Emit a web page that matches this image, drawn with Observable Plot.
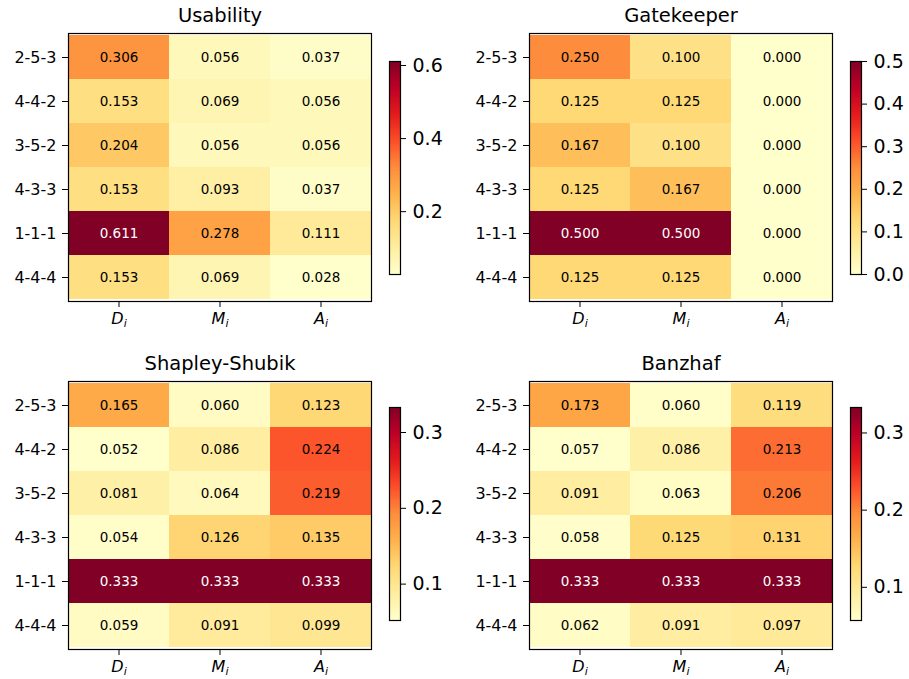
<!DOCTYPE html>
<html><head><meta charset="utf-8">
<script src="https://cdn.jsdelivr.net/npm/d3@7"></script>
<script src="https://cdn.jsdelivr.net/npm/@observablehq/plot@0.6"></script>
<style>
body{margin:0;background:#fff;}
#root{position:relative;width:909px;height:679px;font-family:"DejaVu Sans",sans-serif;background:#fff;overflow:hidden;}
#root svg{position:absolute;}
</style></head><body><div id="root"></div>
<script>
// ---- data ----
const rows = ["2-5-3", "4-4-2", "3-5-2", "4-3-3", "1-1-1", "4-4-4"];
const cols = ["D", "M", "A"];
const usability  = [[0.306,0.056,0.037],[0.153,0.069,0.056],[0.204,0.056,0.056],[0.153,0.093,0.037],[0.611,0.278,0.111],[0.153,0.069,0.028]];
const gatekeeper = [[0.250,0.100,0.000],[0.125,0.125,0.000],[0.167,0.100,0.000],[0.125,0.167,0.000],[0.500,0.500,0.000],[0.125,0.125,0.000]];
const shapley    = [[0.165,0.060,0.123],[0.052,0.086,0.224],[0.081,0.064,0.219],[0.054,0.126,0.135],[0.333,0.333,0.333],[0.059,0.091,0.099]];
const banzhaf    = [[0.173,0.060,0.119],[0.057,0.086,0.213],[0.091,0.063,0.206],[0.058,0.125,0.131],[0.333,0.333,0.333],[0.062,0.091,0.097]];
const titles = ["Usability", "Gatekeeper", "Shapley-Shubik", "Banzhaf"];
const cbTicks = [[0.2,0.4,0.6],[0,0.1,0.2,0.3,0.4,0.5],[0.1,0.2,0.3],[0.1,0.2,0.3]];
const ylorrd = ["#ffffcc","#ffeda0","#fed976","#feb24c","#fd8d3c","#fc4e2a","#e31a1c","#bd0026","#800026"];

// ---- layout ----
const matrices = [usability, gatekeeper, shapley, banzhaf];
const layout = [
  {left: 0,   top: 0,   ml: 68, mt: 33, H: 340, cbLeft: 389, cbTop: 61,  cbBot: 274},
  {left: 450, top: 0,   ml: 79, mt: 33, H: 340, cbLeft: 850, cbTop: 61,  cbBot: 274},
  {left: 0,   top: 340, ml: 68, mt: 41, H: 339, cbLeft: 389, cbTop: 407, cbBot: 620},
  {left: 450, top: 340, ml: 79, mt: 41, H: 339, cbLeft: 850, cbTop: 407, cbBot: 620}
];
const PW = 303, PH = 268;
const root = document.getElementById("root");
const font = "DejaVu Sans";

matrices.forEach((m, k) => {
  const L = layout[k];
  const data = [];
  m.forEach((r, i) => r.forEach((v, j) => data.push({row: rows[i], col: cols[j], value: v})));
  const vals = data.map(d => d.value);
  const lo = d3.min(vals), hi = d3.max(vals);
  const colorScale = {
    type: "linear",
    domain: ylorrd.map((_, i) => lo + (hi - lo) * i / (ylorrd.length - 1)),
    range: ylorrd,
    interpolate: "rgb"
  };
  const thr = lo + 0.75 * (hi - lo);
  const fmt = d3.format(".3f");

  const heat = Plot.plot({
    width: L.ml + PW + 10, height: L.H,
    marginLeft: L.ml, marginRight: 10, marginTop: L.mt, marginBottom: L.H - L.mt - PH,
    x: {type: "band", domain: cols, padding: 0, label: null},
    y: {type: "band", domain: rows, padding: 0, label: null},
    color: colorScale,
    style: {fontFamily: font, color: "#000", background: "transparent", overflow: "visible"},
    marks: [
      Plot.cell(data, {x: "col", y: "row", fill: "value", inset: 0, shapeRendering: "crispEdges"}),
      Plot.text(data.filter(d => d.value <= thr), {x: "col", y: "row", text: d => fmt(d.value), fill: "#000", fontSize: 13.5}),
      Plot.text(data.filter(d => d.value > thr), {x: "col", y: "row", text: d => fmt(d.value), fill: "#fff", fontSize: 13.5}),
      Plot.frame({stroke: "#000", strokeWidth: 1.2}),
      Plot.axisY({tickSize: 6, tickPadding: 6, fontSize: 16, label: null}),
      Plot.axisX({tickSize: 6, tickPadding: 5, fontSize: 16, label: null}),
      Plot.text([titles[k]], {frameAnchor: "top", lineAnchor: "middle", dy: -18, fontSize: 19.5, fill: "#000"})
    ]
  });
  heat.style.left = L.left + "px";
  heat.style.top = L.top + "px";
  // subscript i on x tick labels
  heat.querySelectorAll('g[aria-label="x-axis tick label"] text').forEach(t => {
    const s = t.textContent;
    t.textContent = "";
    t.setAttribute("font-style", "italic");
    const a = document.createElementNS("http://www.w3.org/2000/svg", "tspan");
    a.textContent = s;
    const b = document.createElementNS("http://www.w3.org/2000/svg", "tspan");
    b.textContent = "i";
    b.setAttribute("font-size", "11");
    b.setAttribute("dy", "3");
    t.appendChild(a); t.appendChild(b);
  });
  root.appendChild(heat);

  // colorbar
  const N = 240, step = (hi - lo) / N;
  const steps = d3.range(N).map(i => lo + i * step);
  const cbW = 11, cbMR = 60;
  const cb = Plot.plot({
    width: cbW + cbMR, height: L.H,
    marginLeft: 0, marginRight: cbMR,
    marginTop: L.cbTop - L.top, marginBottom: L.H - (L.cbBot - L.top),
    y: {type: "linear", domain: [lo, hi]},
    color: colorScale,
    style: {fontFamily: font, color: "#000", background: "transparent", overflow: "visible"},
    marks: [
      Plot.rect(steps, {y1: d => d, y2: d => Math.min(hi, d + step * 1.6), fill: d => d + step / 2, shapeRendering: "crispEdges"}),
      Plot.frame({stroke: "#000", strokeWidth: 1.2}),
      Plot.axisY({anchor: "right", ticks: cbTicks[k], tickSize: 5, tickPadding: 7, fontSize: 19, tickFormat: d3.format(".1f"), label: null})
    ]
  });
  cb.style.left = L.cbLeft + "px";
  cb.style.top = L.top + "px";
  root.appendChild(cb);
});
</script></body></html>
